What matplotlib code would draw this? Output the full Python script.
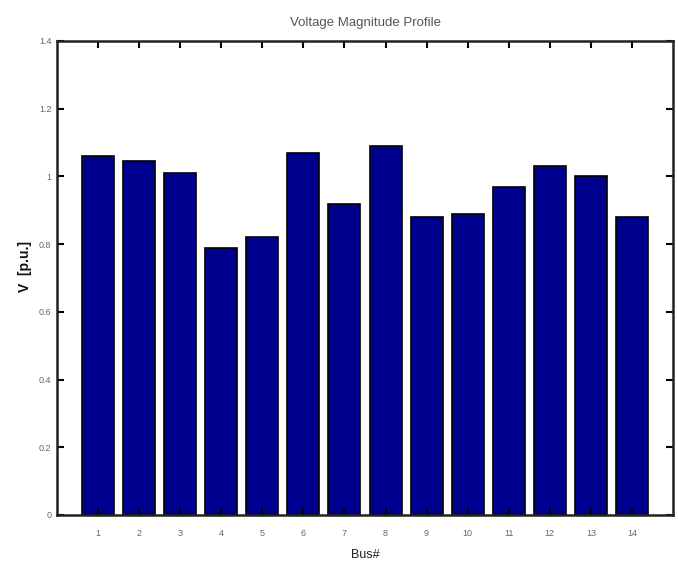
import matplotlib
matplotlib.use("Agg")
import matplotlib.pyplot as plt
from matplotlib import font_manager

buses = list(range(1, 15))
voltages = [1.06, 1.045, 1.01, 0.79, 0.82, 1.07, 0.92, 1.09, 0.88, 0.89, 0.97, 1.03, 1.00, 0.88]
yticks = [0, 0.2, 0.4, 0.6, 0.8, 1.0, 1.2, 1.4]
ytick_labels = ["0", "0.2", "0.4", "0.6", "0.8", "1", "1.2", "1.4"]

names = {f.name for f in font_manager.fontManager.ttflist}
fam = "Liberation Sans Narrow" if "Liberation Sans Narrow" in names else "Liberation Sans"
plt.rcParams['font.family'] = [fam, 'DejaVu Sans']

fig = plt.figure(figsize=(6.78, 5.68), dpi=100)
ax = fig.add_axes([57/678, 1 - 515/568, (673 - 57)/678, (515 - 41)/568])

ax.bar(buses, voltages, width=0.78, color="#00008F", edgecolor="black", linewidth=1.2)

ax.set_xlim(0, 15)
ax.set_ylim(0, 1.4)
ax.set_xticks(buses)
ax.set_xticklabels([str(b) for b in buses], fontsize=6.5, color="#666666")
ax.set_yticks(yticks)
ax.set_yticklabels(ytick_labels, fontsize=6.5, color="#666666")
ax.tick_params(direction="in", length=5, width=1.5, top=True, right=True, pad=10)
ax.tick_params(axis="y", pad=4)
for s in ax.spines.values():
    s.set_linewidth(1.8)
    s.set_color("#222222")

ax.set_title("Voltage Magnitude Profile", fontsize=9.5, color="#555555", pad=11)
ax.set_xlabel("Bus#", fontsize=9, color="#222222", labelpad=8)
ax.set_ylabel("V  [p.u.]", fontsize=10, color="#111111", fontweight="bold")
ax.yaxis.set_label_coords(-0.04, 0.525)

fig.savefig("out.png", dpi=100)
